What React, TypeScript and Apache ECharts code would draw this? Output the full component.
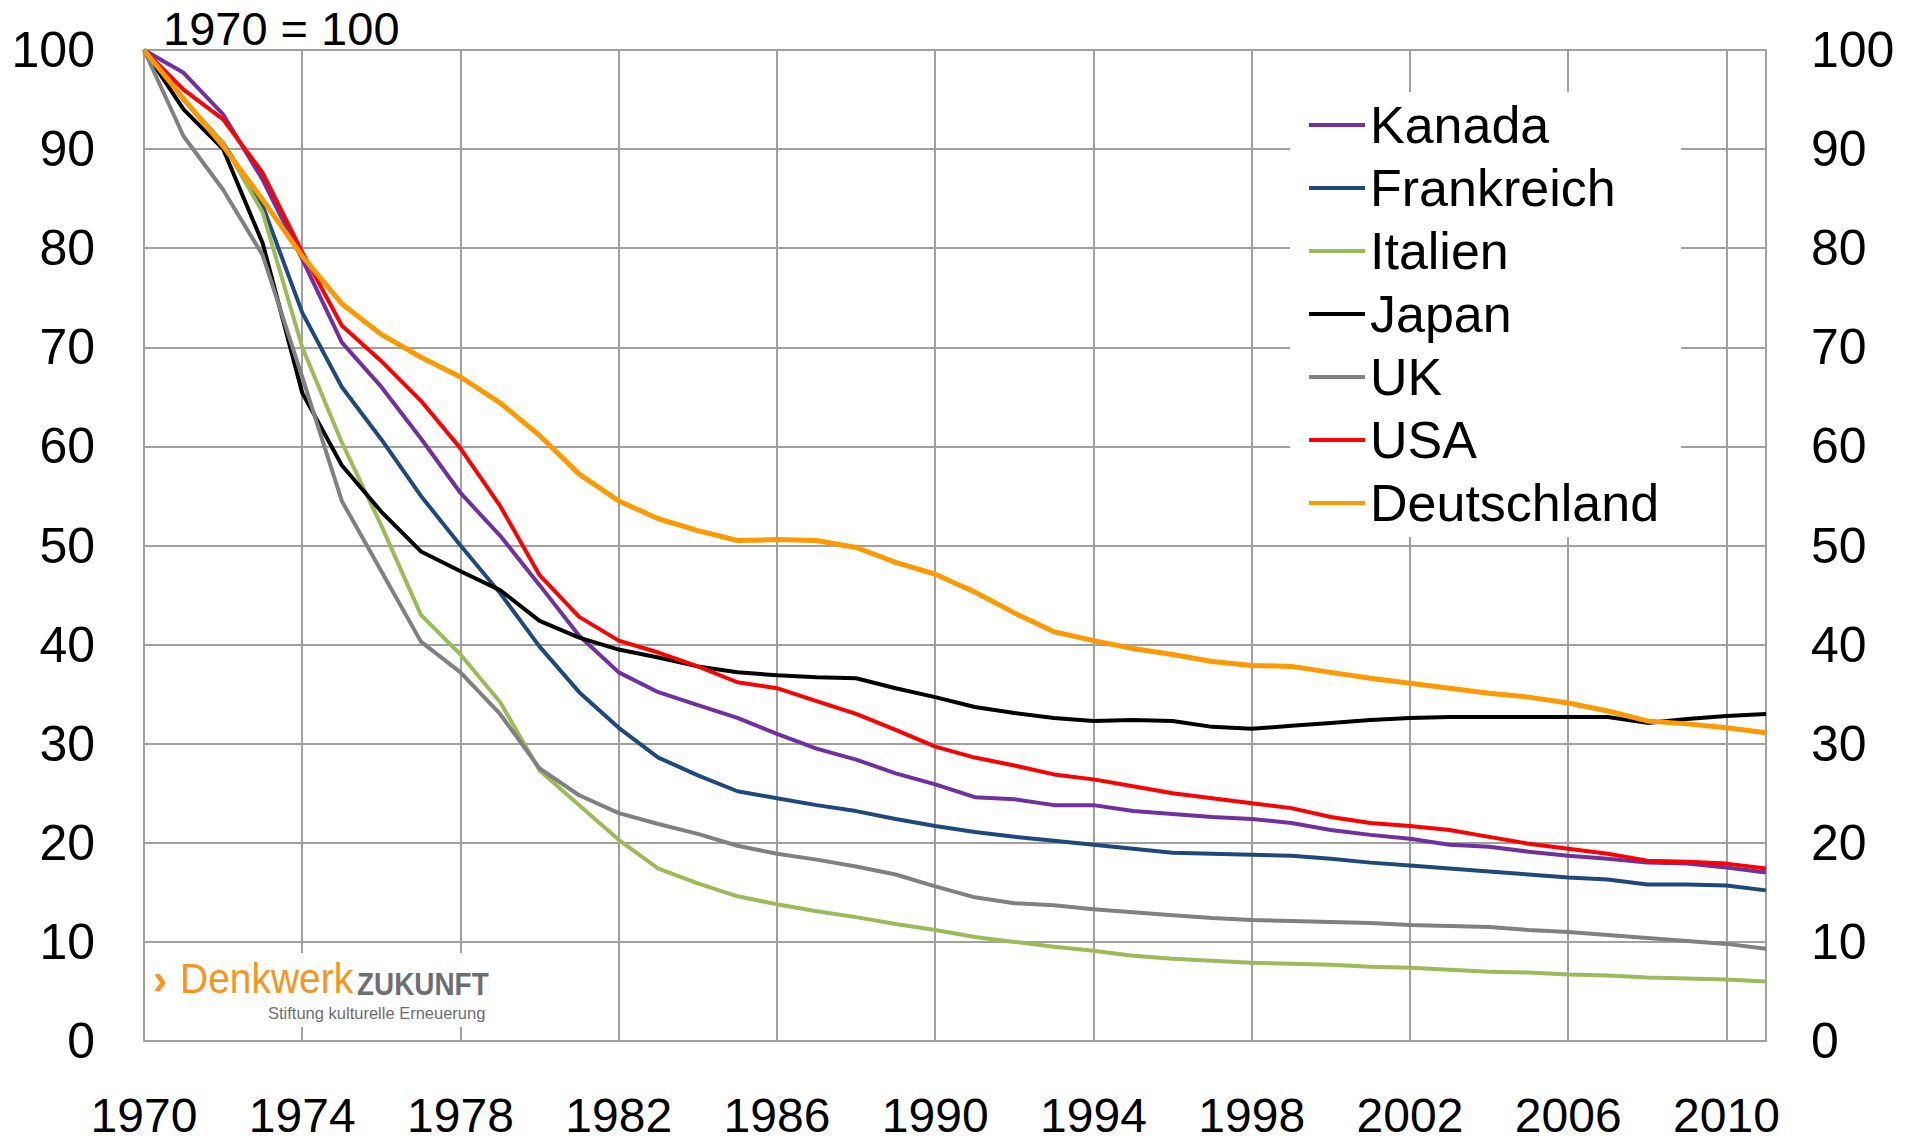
import React, { useEffect, useRef } from "react";
import * as echarts from "echarts";

const years = [
  1970, 1971, 1972, 1973, 1974, 1975, 1976, 1977, 1978, 1979,
  1980, 1981, 1982, 1983, 1984, 1985, 1986, 1987, 1988, 1989,
  1990, 1991, 1992, 1993, 1994, 1995, 1996, 1997, 1998, 1999,
  2000, 2001, 2002, 2003, 2004, 2005, 2006, 2007, 2008, 2009,
  2010, 2011,
];

const kanada = [
  100, 97.7, 93.5, 86.9, 78.9, 70.5, 66.0, 60.8, 55.3, 51.0,
  46.0, 40.9, 37.2, 35.2, 33.9, 32.6, 31.0, 29.5, 28.4, 27.0,
  25.9, 24.6, 24.4, 23.8, 23.8, 23.2, 22.9, 22.6, 22.4, 22.0,
  21.3, 20.8, 20.4, 19.8, 19.6, 19.1, 18.7, 18.4, 18.0, 17.9,
  17.5, 17.0,
];

const frankreich = [
  100, 95.0, 90.6, 84.3, 73.5, 66.0, 60.7, 55.0, 50.0, 45.2,
  39.8, 35.2, 31.6, 28.6, 26.8, 25.2, 24.5, 23.8, 23.2, 22.4,
  21.7, 21.1, 20.6, 20.2, 19.8, 19.4, 19.0, 18.9, 18.8, 18.7,
  18.4, 18.0, 17.7, 17.4, 17.1, 16.8, 16.5, 16.3, 15.8, 15.8,
  15.7, 15.2,
];

const italien = [
  100, 95.0, 90.6, 83.6, 70.0, 60.4, 52.0, 43.0, 39.0, 34.2,
  27.3, 23.8, 20.3, 17.4, 15.9, 14.6, 13.8, 13.1, 12.5, 11.8,
  11.2, 10.5, 10.0, 9.5, 9.1, 8.6, 8.3, 8.1, 7.9, 7.8,
  7.7, 7.5, 7.4, 7.2, 7.0, 6.9, 6.7, 6.6, 6.4, 6.3,
  6.2, 6.0,
];

const japan = [
  100, 94.0, 90.0, 80.5, 65.4, 58.1, 53.4, 49.4, 47.4, 45.5,
  42.4, 40.7, 39.5, 38.7, 37.8, 37.2, 36.9, 36.7, 36.6, 35.6,
  34.7, 33.7, 33.1, 32.6, 32.3, 32.4, 32.3, 31.7, 31.5, 31.8,
  32.1, 32.4, 32.6, 32.7, 32.7, 32.7, 32.7, 32.7, 32.1, 32.5,
  32.8, 33.0,
];

const uk = [
  100, 91.3, 85.9, 79.3, 67.0, 54.5, 47.4, 40.3, 37.2, 33.0,
  27.5, 24.8, 23.0, 21.9, 20.9, 19.7, 18.9, 18.3, 17.6, 16.8,
  15.6, 14.5, 13.9, 13.7, 13.3, 13.0, 12.7, 12.4, 12.2, 12.1,
  12.0, 11.9, 11.7, 11.6, 11.5, 11.2, 11.0, 10.7, 10.4, 10.1,
  9.8, 9.3,
];

const usa = [
  100, 96.0, 93.0, 87.6, 79.6, 72.2, 68.6, 64.6, 59.8, 54.0,
  47.0, 42.8, 40.4, 39.2, 37.8, 36.2, 35.6, 34.3, 33.0, 31.4,
  29.7, 28.6, 27.8, 26.9, 26.4, 25.7, 25.0, 24.5, 24.0, 23.5,
  22.6, 22.0, 21.7, 21.3, 20.6, 19.9, 19.4, 18.9, 18.2, 18.1,
  17.9, 17.4,
];

const deutschland = [
  100, 95.1, 90.3, 84.9, 79.2, 74.4, 71.3, 69.0, 67.0, 64.4,
  61.1, 57.2, 54.5, 52.7, 51.5, 50.5, 50.6, 50.5, 49.8, 48.3,
  47.1, 45.3, 43.2, 41.3, 40.4, 39.6, 39.0, 38.3, 37.9, 37.8,
  37.2, 36.6, 36.1, 35.6, 35.1, 34.7, 34.1, 33.3, 32.3, 32.0,
  31.6, 31.1,
];

const seriesNames = ["Kanada", "Frankreich", "Italien", "Japan", "UK", "USA", "Deutschland"];
const seriesColors = ["#7030A0", "#1F497D", "#9BBB59", "#000000", "#808080", "#FF0000", "#FF9900"];
const seriesWidths = [4, 4, 4, 4, 4, 4, 5];

const titleText = "1970 = 100";
const logoArrow = "›";
const logoWord1 = "Denkwerk";
const logoWord2 = "ZUKUNFT";
const logoSub = "Stiftung kulturelle Erneuerung";

const FONT = "Liberation Sans";
const GRID_COLOR = "#A0A0A0";

export default function App() {
  const ref = useRef<HTMLDivElement>(null);

  useEffect(() => {
    if (!ref.current) return;
    const chart = echarts.init(ref.current, null, { renderer: "svg" });
    const allValues = [kanada, frankreich, italien, japan, uk, usa, deutschland];

    const axisLabelBase = {
      fontSize: 50,
      color: "#000",
      fontFamily: FONT,
    };

    chart.setOption({
      animation: false,
      backgroundColor: "#ffffff",
      textStyle: { fontFamily: FONT },
      grid: {
        left: 144,
        right: 148,
        top: 50,
        bottom: 102,
        containLabel: false,
        outerBoundsMode: "none",
      },
      xAxis: {
        type: "value",
        min: 1970,
        max: 2011,
        interval: 4,
        axisLine: { show: true, lineStyle: { color: GRID_COLOR, width: 2 } },
        axisTick: { show: false },
        splitLine: { show: true, lineStyle: { color: GRID_COLOR, width: 2 } },
        axisLabel: {
          ...axisLabelBase,
          fontSize: 48,
          lineHeight: 40,
          margin: 54,
          showMaxLabel: false,
          showMinLabel: true,
          formatter: (v: number) => String(v),
        },
      },
      yAxis: [
        {
          type: "value",
          min: 0,
          max: 100,
          interval: 10,
          position: "left",
          axisLine: { show: true, lineStyle: { color: GRID_COLOR, width: 2 } },
          axisTick: { show: false },
          splitLine: { show: true, lineStyle: { color: GRID_COLOR, width: 2 } },
          axisLabel: { ...axisLabelBase, margin: 49 },
        },
        {
          type: "value",
          min: 0,
          max: 100,
          interval: 10,
          position: "right",
          axisLine: { show: true, lineStyle: { color: GRID_COLOR, width: 2 } },
          axisTick: { show: false },
          splitLine: { show: false },
          axisLabel: { ...axisLabelBase, margin: 45 },
        },
      ],
      legend: {
        orient: "vertical",
        left: 1290,
        top: 92,
        padding: [7, 22, 8, 19],
        backgroundColor: "#ffffff",
        itemWidth: 56,
        itemHeight: 14,
        itemGap: 11,
        icon: "path://M0,5 L56,5 L56,9 L0,9 Z",
        data: seriesNames,
        textStyle: {
          fontSize: 52,
          color: "#000",
          fontFamily: FONT,
        },
        z: 5,
      },
      graphic: [
        {
          type: "text",
          left: 163,
          top: 5,
          style: {
            text: titleText,
            font: `47px "${FONT}"`,
            fill: "#000",
          },
        },
        {
          type: "rect",
          z: 10,
          shape: { x: 146, y: 953, width: 354, height: 74 },
          style: { fill: "#ffffff" },
        },
        {
          type: "text",
          z: 11,
          x: 153,
          y: 957,
          style: {
            text: logoArrow,
            font: `bold 43px "${FONT}"`,
            fill: "#F7941D",
            verticalAlign: "top",
          },
        },
        {
          type: "text",
          z: 11,
          x: 180,
          y: 957,
          scaleX: 0.906,
          style: {
            text: logoWord1,
            font: `43px "${FONT}"`,
            fill: "#F7941D",
            verticalAlign: "top",
          },
        },
        {
          type: "text",
          z: 11,
          x: 357,
          y: 968,
          scaleX: 0.9,
          style: {
            text: logoWord2,
            font: `bold 31px "${FONT}"`,
            fill: "#6D6E71",
            verticalAlign: "top",
          },
        },
        {
          type: "text",
          z: 11,
          x: 268,
          y: 1004,
          style: {
            text: logoSub,
            font: `16.5px "${FONT}"`,
            fill: "#6D6E71",
            verticalAlign: "top",
          },
        },
      ],
      series: allValues.map((vals, i) => ({
        type: "line",
        name: seriesNames[i],
        data: years.map((y, j) => [y, vals[j]]),
        showSymbol: false,
        symbol: "none",
        lineStyle: { color: seriesColors[i], width: seriesWidths[i] },
        itemStyle: { color: seriesColors[i] },
        color: seriesColors[i],
        emphasis: { disabled: true },
      })),
    });

    return () => chart.dispose();
  }, []);

  return (
    <div
      ref={ref}
      style={{ position: "fixed", left: 0, top: 0, width: 1914, height: 1143 }}
    />
  );
}
